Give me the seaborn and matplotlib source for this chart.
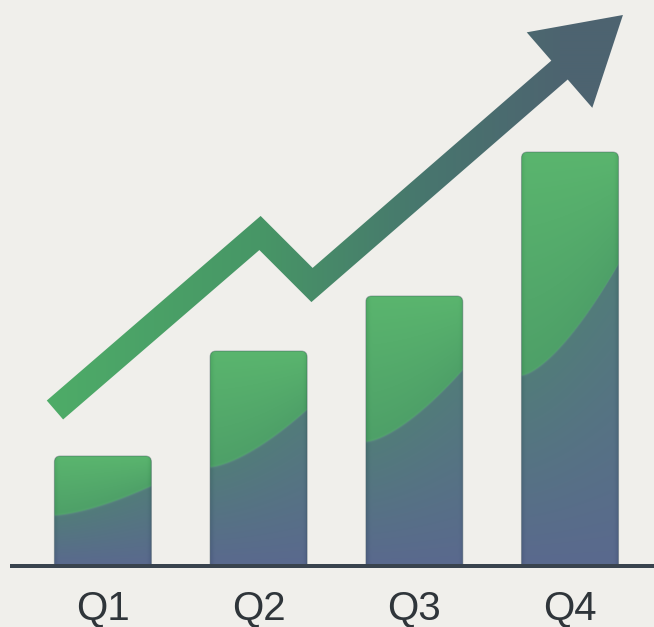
import numpy as np
import matplotlib
matplotlib.use("Agg")
import matplotlib.pyplot as plt
import seaborn as sns
from matplotlib.path import Path
from matplotlib.patches import PathPatch, Polygon

# ---------------- data ----------------
quarters = ["Q1", "Q2", "Q3", "Q4"]
revenue = [110, 215, 270, 414]
# trend arrow (category-position x, value y); last point = arrow tip
trend_x = [-0.308, 1.009, 1.343, 3.34]
trend_y = [156, 333, 281, 551]

# ---------------- figure ----------------
W, H, DPI = 654, 627, 100
BG = "#f0efeb"
sns.set_theme(style="white")
plt.rcParams["font.family"] = ["Liberation Sans", "DejaVu Sans"]

fig = plt.figure(figsize=(W / DPI, H / DPI), dpi=DPI, facecolor=BG)
BASE_PX = 61
ax = fig.add_axes([0, BASE_PX / H, 1, (H - BASE_PX) / H])
ax.set_facecolor(BG)

sns.barplot(x=quarters, y=revenue, width=0.623, ax=ax, color="#55a86a")

SX = 155.7     # pixels per category unit
X0PX = 102.9   # pixel position of first category
xlim = (-X0PX / SX, (W - X0PX) / SX)
ylim = (0, H - BASE_PX)
ax.set_xlim(*xlim)
ax.set_ylim(*ylim)

def to_px(x):
    return X0PX + SX * np.asarray(x, float)

def from_px(px):
    return (np.asarray(px, float) - X0PX) / SX

# ---------------- gradient bars ----------------
def lerp(c0, c1, t):
    t = np.clip(t, 0, 1)[..., None]
    return np.asarray(c0, float) * (1 - t) + np.asarray(c1, float) * t

G0, G1 = (90, 181, 110), (78, 160, 104)
L0, L1 = (82, 124, 122), (90, 105, 142)

for p in list(ax.patches):
    x0 = p.get_x()
    w = p.get_width()
    top = p.get_height()
    x1 = x0 + w
    p.set_visible(False)

    r = 6.0
    rx, ry = r / SX, r
    verts = [(x0, 0), (x0, top - ry), (x0, top), (x0 + rx, top),
             (x1 - rx, top), (x1, top), (x1, top - ry), (x1, 0), (x0, 0)]
    codes = [Path.MOVETO, Path.LINETO, Path.CURVE3, Path.CURVE3,
             Path.LINETO, Path.CURVE3, Path.CURVE3, Path.LINETO, Path.CLOSEPOLY]
    patch = PathPatch(Path(verts, codes), facecolor="none",
                      edgecolor=(0.22, 0.30, 0.34, 0.35), lw=0.8, zorder=2.5)
    ax.add_patch(patch)

    ncols = max(int(round(w * SX)), 2)
    nrows = max(int(round(top)), 2)
    u = np.linspace(0, 1, ncols)[None, :]
    v = np.linspace(0, 1, nrows)[:, None]  # 0 = top
    vc = 0.54 - 0.27 * u ** 1.5
    green = lerp(G0, G1, v / vc)
    low = lerp(L0, L1, (v - vc) / (1 - vc))
    s = np.clip((v - vc) * top / 2.0 + 0.5, 0, 1)
    img = green * (1 - s[..., None]) + low * s[..., None]
    rim = np.exp(-(((v - vc) * top) / 1.5) ** 2)[..., None]
    img = img + rim * 6
    edge = (np.exp(-(u * ncols / 3.0) ** 2) + np.exp(-((1 - u) * ncols / 3.0) ** 2))
    img = img - edge[..., None] * 10
    img = np.clip(img / 255.0, 0, 1)
    im = ax.imshow(img, extent=(x0, x1, 0, top), origin="upper",
                   aspect="auto", interpolation="bilinear", zorder=2)
    im.set_clip_path(patch)

# ---------------- trend arrow ----------------
pts = np.column_stack([to_px(trend_x), np.asarray(trend_y, float)])
tip = pts[-1]
d = tip - pts[-2]
d /= np.linalg.norm(d)
nrm = np.array([-d[1], d[0]])
HEAD_LEN, HEAD_HALF, HW = 84.0, 50.0, 12.5
base = tip - d * HEAD_LEN
shaft = np.vstack([pts[:-1], base])

def offset_poly(pp, hw):
    n = len(pp)
    dirs = [(pp[i + 1] - pp[i]) / np.linalg.norm(pp[i + 1] - pp[i]) for i in range(n - 1)]
    norms = [np.array([-dd[1], dd[0]]) for dd in dirs]
    left, right = [], []
    for i in range(n):
        if i == 0:
            m, k = norms[0], 1.0
        elif i == n - 1:
            m, k = norms[-1], 1.0
        else:
            m = norms[i - 1] + norms[i]
            m = m / np.linalg.norm(m)
            k = 1.0 / np.dot(m, norms[i])
        left.append(pp[i] + m * hw * k)
        right.append(pp[i] - m * hw * k)
    return left, right

left, right = offset_poly(shaft, HW)
outline = left + [base + nrm * HEAD_HALF, tip, base - nrm * HEAD_HALF] + right[::-1]
outline = np.array(outline)
outline_data = np.column_stack([from_px(outline[:, 0]), outline[:, 1]])
arrow_patch = Polygon(outline_data, closed=True, facecolor="none", edgecolor="none", zorder=3)
ax.add_patch(arrow_patch)

cols = np.arange(W)
stops_px = [47, 260, 430, 560, 654]
stops_c = np.array([(78, 172, 104), (71, 150, 102), (72, 117, 110), (77, 100, 112), (77, 99, 112)], float)
row = np.stack([np.interp(cols, stops_px, stops_c[:, c]) for c in range(3)], axis=-1) / 255.0
aimg = np.repeat(row[None, :, :], 4, axis=0)
aim = ax.imshow(aimg, extent=(xlim[0], xlim[1], ylim[0], ylim[1]), origin="lower",
                aspect="auto", interpolation="bilinear", zorder=3)
aim.set_clip_path(arrow_patch)

# ---------------- axes styling ----------------
for side in ["left", "right", "top"]:
    ax.spines[side].set_visible(False)
sp = ax.spines["bottom"]
sp.set_visible(True)
sp.set_color("#39434e")
sp.set_linewidth(4 * 72 / DPI)
sp.set_bounds(from_px(12), xlim[1])
sp.set_zorder(6)

ax.set_xticks(range(len(quarters)))
ax.set_xticklabels(quarters, fontsize=29, color="#2f353a")
ax.tick_params(axis="x", length=0, pad=17)
ax.set_yticks([])
ax.set_xlabel("")
ax.set_ylabel("")
ax.set_xlim(*xlim)
ax.set_ylim(*ylim)

fig.savefig("out.png", dpi=DPI, facecolor=BG)
